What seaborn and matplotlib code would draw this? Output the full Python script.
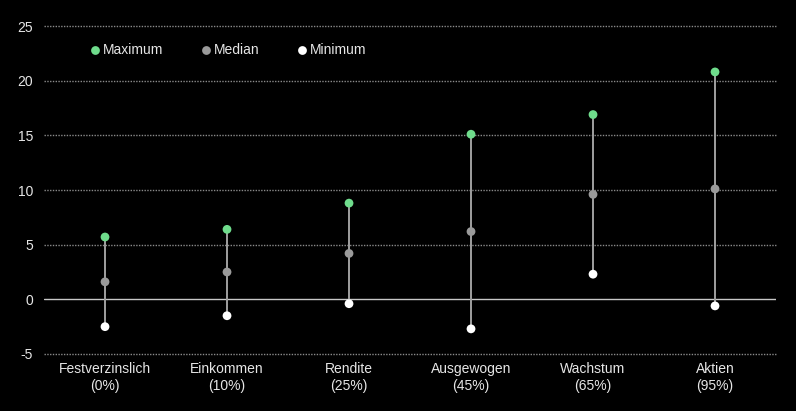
import matplotlib
matplotlib.use("Agg")
import matplotlib.pyplot as plt
import seaborn as sns
import pandas as pd

categories = ["Festverzinslich\n(0%)", "Einkommen\n(10%)", "Rendite\n(25%)",
              "Ausgewogen\n(45%)", "Wachstum\n(65%)", "Aktien\n(95%)"]
maximum = [5.7, 6.4, 8.8, 15.1, 16.9, 20.8]
median = [1.6, 2.5, 4.2, 6.2, 9.6, 10.1]
minimum = [-2.5, -1.5, -0.4, -2.7, 2.3, -0.6]
series_names = ["Maximum", "Median", "Minimum"]
yticks = [-5, 0, 5, 10, 15, 20, 25]

colors = {"Maximum": "#6fdc8c", "Median": "#9a9a9a", "Minimum": "#ffffff"}

sns.set_theme(style="dark")
plt.rcParams['font.family'] = ['Liberation Sans', 'DejaVu Sans']

rows = []
for name, vals in zip(series_names, [maximum, median, minimum]):
    for c, v in zip(categories, vals):
        rows.append({"cat": c, "value": v, "series": name})
df = pd.DataFrame(rows)

fig = plt.figure(figsize=(7.96, 4.11), dpi=100, facecolor="black")
ax = fig.add_axes([0.0553, 0.1387, 0.9196, 0.798])
ax.set_facecolor("black")

# grid lines
for t in yticks:
    if t == 0:
        ax.axhline(0, color="#c8c8c8", lw=1.0, zorder=1)
    else:
        ax.axhline(t, color="#8a8a8a", lw=1.0, ls=(0, (1, 1)), zorder=1,
                   clip_on=False)

positions = list(range(len(categories)))
ax.vlines(positions, minimum, maximum, color="#a0a0a0", lw=1.4, zorder=2)

sns.scatterplot(data=df, x="cat", y="value", hue="series", palette=colors,
                hue_order=series_names, s=40, edgecolor="none", ax=ax, zorder=3)

ax.set_xlim(-0.5, len(categories) - 0.5)
ax.set_ylim(-5, 25)
ax.set_yticks(yticks)
ax.set_yticklabels([str(t) for t in yticks])
ax.set_xlabel("")
ax.set_ylabel("")
ax.tick_params(axis="both", colors="#e6e6e6", labelsize=10, length=0)
ax.tick_params(axis="y", pad=8)
ax.tick_params(axis="x", pad=6)
for lab in ax.get_xticklabels() + ax.get_yticklabels():
    lab.set_color("#e6e6e6")
for sp in ax.spines.values():
    sp.set_visible(False)
ax.grid(False)

leg = ax.legend(loc="upper left", bbox_to_anchor=(0.047, 0.985), ncol=3,
                frameon=False, fontsize=10, handlelength=0.6,
                handletextpad=0.25, columnspacing=2.8, markerscale=1.0)
for txt in leg.get_texts():
    txt.set_color("#e6e6e6")

fig.savefig("out.png", dpi=100, facecolor="black")
